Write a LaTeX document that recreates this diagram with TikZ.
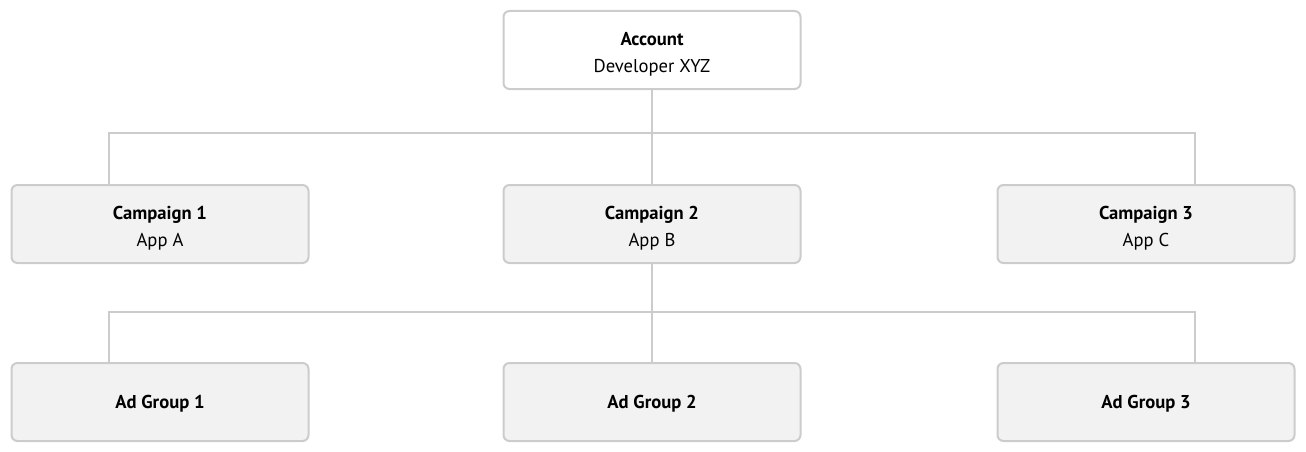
\documentclass[tikz,border=0pt]{standalone}
\usepackage{fontspec}
\setmainfont{PT Sans}
\definecolor{boxline}{HTML}{CCCCCC}
\definecolor{boxfill}{HTML}{F2F2F2}
\definecolor{conn}{HTML}{CCCCCC}
\newcommand{\lift}{\rule{0pt}{21pt}}
\tikzset{
  card/.style={draw=boxline, line width=2pt, rounded corners=6pt, minimum width=297pt, minimum height=78pt, inner sep=0pt, align=center, font=\fontsize{18.6}{27}\selectfont, fill=boxfill},
  topcard/.style={card, fill=white},
  link/.style={draw=conn, line width=2pt},
}
\begin{document}
\begin{tikzpicture}[x=1pt,y=-1pt]
\useasboundingbox (0,0) rectangle (1306,452);
\node[topcard] (acc) at (652,50) {\lift\textbf{Account}\\Developer XYZ};
\node[card] (c1) at (160,224) {\lift\textbf{Campaign 1}\\App A};
\node[card] (c2) at (652,224) {\lift\textbf{Campaign 2}\\App B};
\node[card] (c3) at (1146,224) {\lift\textbf{Campaign 3}\\App C};
\node[card] (a1) at (160,402) {\rule{0pt}{16pt}\textbf{Ad Group 1}};
\node[card] (a2) at (652,402) {\rule{0pt}{16pt}\textbf{Ad Group 2}};
\node[card] (a3) at (1146,402) {\rule{0pt}{16pt}\textbf{Ad Group 3}};
\coordinate (j1) at (652,133);
\coordinate (j2) at (652,312);
\draw[link] (acc.south) -- (j1);
\draw[link] (c1.north -| 109,0) |- (j1) -| (c3.north -| 1195,0);
\draw[link] (j1) -- (c2.north);
\draw[link] (c2.south) -- (j2);
\draw[link] (a1.north -| 109,0) |- (j2) -| (a3.north -| 1195,0);
\draw[link] (j2) -- (a2.north);
\end{tikzpicture}
\end{document}
